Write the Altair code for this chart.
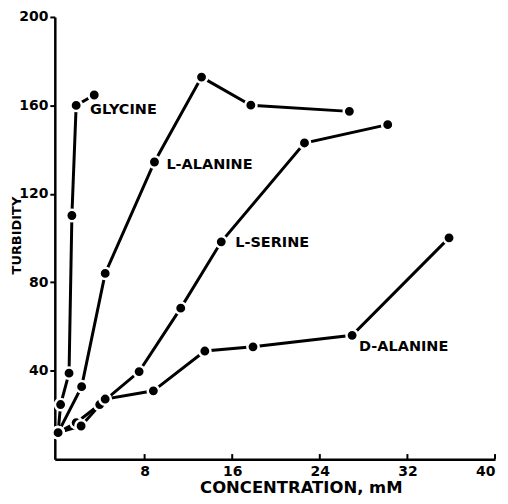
import altair as alt
import pandas as pd

# Data (concentration mM, turbidity)
glycine_x = [0.1, 0.33, 1.1, 1.36, 1.75, 3.4]
glycine_y = [12, 24.7, 38.9, 110.2, 160, 164.7]

lalanine_x = [0.1, 2.25, 4.4, 8.9, 13.2, 17.7, 26.7]
lalanine_y = [12, 32.8, 84, 134.4, 172.8, 160.1, 157.3]

lserine_x = [0.1, 1.75, 3.9, 7.5, 11.3, 15.0, 22.6, 30.2]
lserine_y = [12, 16.5, 24.7, 39.6, 68.3, 98.3, 143, 151.3]

dalanine_x = [0.1, 2.2, 4.4, 8.8, 13.5, 17.9, 26.95, 35.8]
dalanine_y = [12, 15, 27.2, 30.9, 48.9, 50.8, 56, 100.1]

series_names = ["GLYCINE", "L-ALANINE", "L-SERINE", "D-ALANINE"]
series_x = [glycine_x, lalanine_x, lserine_x, dalanine_x]
series_y = [glycine_y, lalanine_y, lserine_y, dalanine_y]

# label anchored to a data point of each series, with pixel offsets
label_point_index = [4, 3, 5, 6]
label_dx = [14, 12, 14, 7]
label_dy = [5, 3, 1, 12]

x_ticks = [8, 16, 24, 32, 40]
y_ticks = [40, 80, 120, 160, 200]

rows = []
for name, xs, ys in zip(series_names, series_x, series_y):
    for i, (xv, yv) in enumerate(zip(xs, ys)):
        rows.append({"series": name, "x": xv, "y": yv, "i": i})
df = pd.DataFrame(rows)

FONT = "DejaVu Sans"

xenc = alt.X(
    "x:Q",
    scale=alt.Scale(domain=[-0.2, 40], nice=False, zero=False),
    axis=alt.Axis(
        values=x_ticks,
        ticks=False,
        labelPadding=5,
        grid=False,
        title="CONCENTRATION, mM",
        titleX=247,
        titleY=28,
        titleAlign="center",
        titleBaseline="middle",
        titleFontSize=16.5,
    ),
)
yenc = alt.Y(
    "y:Q",
    scale=alt.Scale(domain=[0, 200], nice=False),
    axis=alt.Axis(
        values=y_ticks,
        tickSize=5,
        tickWidth=2,
        labelPadding=2,
        grid=False,
        title="TURBIDITY",
        titleX=-38,
        titleY=219,
        titleAngle=270,
        titleAlign="center",
        titleBaseline="middle",
        titleFontSize=13,
    ),
)

lines = alt.Chart(df).mark_line(color="black", strokeWidth=3).encode(
    x=xenc, y=yenc, detail="series:N", order="i:Q"
)
points = alt.Chart(df).mark_circle(
    fill="black", stroke="white", strokeWidth=2.5, size=130, opacity=1
).encode(x="x:Q", y="y:Q")

tick_df = pd.DataFrame({"t": x_ticks})
xticks = alt.Chart(tick_df).mark_rule(color="black", strokeWidth=2).encode(
    x="t:Q", y=alt.datum(0), y2=alt.datum(2.3)
)

layers = [lines, xticks, points]
for name, xs, ys, idx, dx, dy in zip(series_names, series_x, series_y,
                                     label_point_index, label_dx, label_dy):
    ldf = pd.DataFrame({"x": [xs[idx]], "y": [ys[idx]], "label": [name]})
    layers.append(
        alt.Chart(ldf).mark_text(
            align="left", baseline="middle", dx=dx, dy=dy,
            font=FONT, fontSize=14.5, fontWeight="bold", color="black"
        ).encode(x="x:Q", y="y:Q", text="label:N")
    )

chart = alt.layer(*layers).properties(
    width=442,
    height=444,
    autosize=alt.AutoSizeParams(type="none"),
    padding={"left": 47, "top": 8, "right": 5, "bottom": 38},
).configure_view(stroke=None).configure_axis(
    domainColor="black",
    domainWidth=2.5,
    tickColor="black",
    labelColor="black",
    titleColor="black",
    labelFont=FONT,
    labelFontSize=14,
    labelFontWeight="bold",
    titleFont=FONT,
    titleFontWeight="bold",
)

chart.save("out.html", embed_options={"renderer": "svg", "actions": False})
